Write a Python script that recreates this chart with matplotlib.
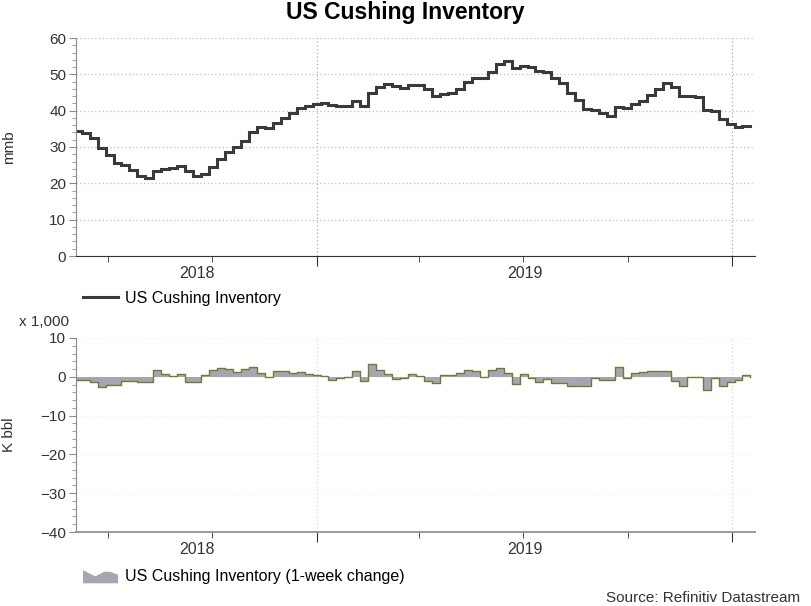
import matplotlib
matplotlib.use('Agg')
import matplotlib.pyplot as plt
import matplotlib.dates as mdates
import matplotlib.patches as mpatches
from matplotlib.legend_handler import HandlerPatch
from matplotlib.ticker import MultipleLocator, NullFormatter
import pandas as pd

plt.rcParams['font.family'] = ['Liberation Sans', 'DejaVu Sans']

# weekly (Friday) observations
dates = pd.date_range('2018-06-01', '2020-01-17', freq='W-FRI')

# US Cushing inventory, mmb
inventory = [34.5, 33.9, 32.4, 29.8, 27.7, 25.7, 25.1, 23.7, 22.1, 21.6,
             23.4, 24.0, 24.1, 24.8, 23.5, 22.1, 22.6, 24.4, 26.6, 28.6,
             29.9, 31.7, 34.2, 35.6, 35.3, 36.5, 38.1, 39.3, 40.6, 41.3,
             41.9,
             42.1, 41.5, 41.3, 41.3, 42.7, 41.4, 44.9, 46.6, 47.3, 46.8,
             46.3, 47.0, 47.1, 46.1, 44.1, 44.6, 44.9, 45.9, 47.8, 48.9,
             49.0, 50.7, 52.8, 53.7, 51.8, 52.3, 52.1, 50.9, 50.6, 48.9,
             47.5, 45.0, 42.9, 40.5, 40.3, 39.4, 38.5, 41.0, 40.8, 41.7,
             42.7, 44.3, 45.9, 47.5, 46.6, 44.0, 43.9, 43.7, 40.2, 40.0,
             37.6, 36.3,
             35.4, 35.8, 35.7]

# 1-week change, K bbl x 1,000
change = [-0.9, -0.8, -1.4, -2.6, -2.1, -2.0, -1.0, -1.0, -1.3, -1.3,
          1.7, 0.8, 0.1, 0.6, -1.3, -1.3, 0.4, 1.7, 2.3, 1.9,
          1.3, 2.0, 2.4, 1.1, -0.1, 1.4, 1.6, 1.1, 1.2, 0.6,
          0.5,
          0.3, -0.7, -0.2, -0.1, 1.5, -1.1, 3.4, 1.7, 0.8, -0.6,
          -0.4, 0.6, 0.2, -1.2, -1.5, 0.4, 0.4, 0.9, 1.8, 1.6,
          0.0, 1.7, 2.2, 0.9, -1.9, 0.7, -0.2, -1.3, -0.6, -1.7,
          -1.6, -2.4, -2.4, -2.4, -0.4, -0.7, -0.8, 2.4, -0.2, 0.9,
          1.2, 1.4, 1.6, 1.6, -1.1, -2.3, -0.1, -0.1, -3.3, -0.3,
          -2.4, -1.3,
          -0.9, 0.4, -0.1]

x0 = pd.Timestamp('2018-06-03')
x1 = pd.Timestamp('2020-01-21')

fill_col = '#a6a6b2'
edge_col = '#77773a'

fig = plt.figure(figsize=(8.11, 6.06), dpi=100)
ax1 = fig.add_axes([76/811, 1-256/606, 679/811, 218/606])
ax2 = fig.add_axes([76/811, 1-532/606, 679/811, 194/606])


def style(ax, ymin, ymax, label_y, gcol_x, gcol_y):
    ax.set_xlim(x0, x1)
    ax.set_ylim(ymin, ymax)
    ax.spines['top'].set_visible(False)
    ax.spines['right'].set_visible(False)
    ax.spines['left'].set_color('#8a8a8a')
    ax.yaxis.set_major_locator(MultipleLocator(10))
    ax.yaxis.set_minor_locator(MultipleLocator(2))
    ax.tick_params(axis='y', which='major', length=5, color='#8a8a8a',
                   labelsize=11, labelcolor='#333333', pad=2)
    ax.tick_params(axis='y', which='minor', length=3, color='#8a8a8a')
    ax.xaxis.set_major_locator(mdates.YearLocator())
    ax.xaxis.set_minor_locator(mdates.MonthLocator(bymonth=[1, 4, 7, 10]))
    ax.xaxis.set_major_formatter(NullFormatter())
    ax.tick_params(axis='x', which='major', length=7, color='#333333')
    ax.tick_params(axis='x', which='minor', length=4, color='#333333')
    ax.grid(axis='x', which='major', color=gcol_x, linestyle=(0, (1, 2)), lw=0.9)
    ax.grid(axis='y', which='major', color=gcol_y, linestyle=(0, (1, 2)), lw=0.9)
    ax.set_axisbelow(True)
    # year labels centred on the visible part of each year
    for yr in [2018, 2019]:
        a = max(pd.Timestamp(f'{yr}-01-01'), x0)
        b = min(pd.Timestamp(f'{yr+1}-01-01'), x1)
        mid = a + (b - a) / 2
        ax.text(mid, label_y, str(yr), transform=ax.get_xaxis_transform(),
                ha='center', va='top', fontsize=11.5, color='#333333')


def mountain(legend, orig_handle, xdescent, ydescent, width, height, fontsize):
    # small area-shaped swatch like the Datastream legend
    shape = [(0, 0), (0, 0.85), (0.35, 0.45), (0.6, 0.75), (0.78, 0.75),
             (1.0, 0.55), (1.0, 0)]
    pts = [(-xdescent + px * width, -ydescent + py * height) for px, py in shape]
    return mpatches.Polygon(pts, closed=True)


style(ax1, 0, 60, -0.046, '#a8a8bc', '#b4c89c')
style(ax2, -40, 10, -0.052, '#f2c8d4', '#f4f4d4')
ax1.spines['bottom'].set_color('#333333')
ax2.spines['bottom'].set_color('#999999')
ax2.spines['bottom'].set_linewidth(1.4)

line, = ax1.plot(dates, inventory, drawstyle='steps-post', color='#3a3a3e',
                 lw=2.2, solid_joinstyle='miter')

ax2.fill_between(dates, change, 0, step='post', facecolor=fill_col,
                 edgecolor='none')
ax2.plot(dates, change, drawstyle='steps-post', color=edge_col, lw=1.0)
area_proxy = mpatches.Patch(facecolor=fill_col, edgecolor='none')

ax1.legend([line], ['US Cushing Inventory'], loc='center left',
           bbox_to_anchor=(83/811, 1-298/606), bbox_transform=fig.transFigure,
           frameon=False, borderpad=0, borderaxespad=0, handlelength=2.2,
           handletextpad=0.45, fontsize=11.5)
ax2.legend([area_proxy], ['US Cushing Inventory (1-week change)'],
           loc='center left', bbox_to_anchor=(83/811, 1-576/606),
           bbox_transform=fig.transFigure, frameon=False, borderpad=0,
           borderaxespad=0, handlelength=2.2, handleheight=1.1,
           handletextpad=0.45, fontsize=11.5,
           handler_map={mpatches.Patch: HandlerPatch(patch_func=mountain)})

fig.text(0.5, 1-13/606, 'US Cushing Inventory', ha='center', va='center',
         fontsize=16.5, fontweight='bold')
fig.text(9/811, 1-147/606, 'mmb', rotation=90, ha='center', va='center',
         fontsize=11, color='#333333')
fig.text(9/811, 1-435/606, 'K bbl', rotation=90, ha='center', va='center',
         fontsize=11, color='#333333')
fig.text(44/811, 1-322/606, 'x 1,000', ha='center', va='center',
         fontsize=11, color='#333333')
fig.text(800/811, 1-598/606, 'Source: Refinitiv Datastream', ha='right',
         va='center', fontsize=11, color='#333333')

fig.savefig('out.png', dpi=100)
